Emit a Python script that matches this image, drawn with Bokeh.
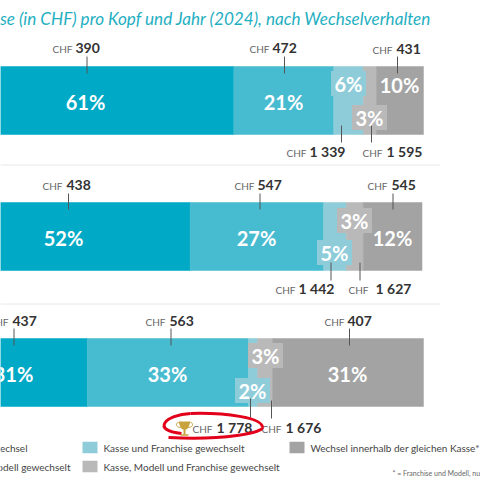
from bokeh.plotting import figure
from bokeh.embed import file_html
from bokeh.resources import INLINE
from bokeh.models import Range1d
from bokeh.core.properties import value

# ---- data ----
series_names = ["echsel", "odell gewechselt", "Kasse und Franchise gewechselt",
                "Kasse, Modell und Franchise gewechselt", "Wechsel innerhalb der gleichen Kasse*"]
share_row1 = [61.1, 20.6, 6.1, 2.7, 9.7]
share_row2 = [52.1, 27.5, 4.7, 3.5, 12.1]
share_row3 = [30.9, 33.2, 1.9, 3.1, 31.1]
pct_row1 = ["61%", "21%", "6%", "3%", "10%"]
pct_row2 = ["52%", "27%", "5%", "3%", "12%"]
pct_row3 = ["31%", "33%", "2%", "3%", "31%"]
chf_row1 = ["390", "472", "1 339", "1 595", "431"]
chf_row2 = ["438", "547", "1 442", "1 627", "545"]
chf_row3 = ["437", "563", "1 778", "1 676", "407"]
colors = ["#00A9C5", "#47BBCF", "#8ECCD9", "#B9B9B9", "#A3A3A3"]
title_text = "se (in CHF) pro Kopf und Jahr (2024), nach Wechselverhalten"
footnote = "* = Franchise und Modell, nu"

rows = [share_row1, share_row2, share_row3]
pcts = [pct_row1, pct_row2, pct_row3]
chfs = [chf_row1, chf_row2, chf_row3]

# ---- page-pixel layout helpers ----
M = 0
W = H = 480
PCT_PX = 4.85
X0_PX = -63.0
ROW_PX = 136.0
ROW0_PX = 100.0
def X(px): return (px - X0_PX) / PCT_PX
def Y(py): return (py - ROW0_PX) / ROW_PX

p = figure(width=W, height=H, output_backend="svg", toolbar_location=None,
           x_range=Range1d(X(M), X(M + W)), y_range=Range1d(Y(M + H), Y(M)),
           min_border=0, outline_line_color=None)
p.axis.visible = False
p.grid.visible = False
p.background_fill_color = "white"

FONT = value("Lato")

# separators
p.segment(x0=[X(M)] * 2, x1=[X(440)] * 2, y0=[Y(164.5), Y(303.5)], y1=[Y(164.5), Y(303.5)],
          line_color="#E8E8E8", line_width=1)

# bars
BAR_H = 68 / ROW_PX
for r, shares in enumerate(rows):
    left = 0.0
    for s, c in zip(shares, colors):
        p.hbar(y=[r], left=[left], right=[left + s], height=BAR_H, fill_color=c, line_color=c, line_width=0.5)
        left += s

pct_pos = [
    [(85, 101), (283, 101), (348, 83), (369, 117), (399, 84)],
    [(63, 237), (256, 237), (334, 252), (354, 220), (392, 237)],
    [(13, 373), (167, 373), (252, 390), (265, 355), (347, 373)],
]
for r in range(3):
    for i in (2, 3):
        x, y = pct_pos[r][i]
        p.rect(x=[X(x)], y=[Y(y)], width=35, height=25, width_units="screen", height_units="screen",
               fill_color=colors[i], line_color=None)

leaders = [
    [(86.5, 56, 73), (284, 56, 73), (341, 125, 142), (371, 125, 142), (397, 56, 73)],
    [(68, 193, 209), (259.5, 193, 209), (330.5, 262, 280), (359.5, 262, 280), (392.5, 193, 209)],
    [(13.5, 328, 345), (170.5, 328, 345), (250, 398, 417), (271, 400, 418), (349, 328, 345)],
]
for row in leaders:
    for x, a, b in row:
        p.segment(x0=[X(x)], x1=[X(x)], y0=[Y(a)], y1=[Y(b)], line_color="#555555", line_width=1)

for r in range(3):
    for i, t in enumerate(pcts[r]):
        x, y = pct_pos[r][i]
        p.text(x=[X(x)], y=[Y(y)], text=[t], text_color="white", text_font=FONT, text_font_style="bold",
               text_font_size="20px", text_align="center", text_baseline="middle")

chf_pos = [
    [(75, 72, 47), (272, 269, 47), (309, 306, 151), (386, 382, 151), (396, 392, 48)],
    [(66, 62, 184), (257, 254, 184), (298, 295, 288), (375, 368, 288), (391, 387, 184)],
    [(12, 8, 320), (169, 165, 320), (216, 212, 427), (285, 281, 427), (347, 344, 320)],
]
for r in range(3):
    for i, t in enumerate(chfs[r]):
        nx, cx, y = chf_pos[r][i]
        p.text(x=[X(cx)], y=[Y(y + 1)], text=["CHF"], text_color="#666666", text_font=FONT,
               text_font_size="10px", text_align="right", text_baseline="middle")
        p.text(x=[X(nx)], y=[Y(y)], text=[t], text_color="#333333", text_font=FONT, text_font_style="bold",
               text_font_size="14px", text_align="left", text_baseline="middle")

p.text(x=[X(431)], y=[Y(18)], text=[title_text], text_color="#1FAFC2", text_font=FONT,
       text_font_style="italic", text_font_size="17.1px", text_align="right", text_baseline="middle")

for i, sx, sy in [(2, 82, 447), (3, 82, 466), (4, 289, 447)]:
    p.rect(x=[X(sx + 7.5)], y=[Y(sy)], width=15, height=11.5, width_units="screen", height_units="screen",
           fill_color=colors[i], line_color=None)
    p.text(x=[X(sx + 21)], y=[Y(sy + 0.5)], text=[series_names[i]], text_color="#444444", text_font=FONT,
           text_font_size="10px", text_align="left", text_baseline="middle")
p.text(x=[X(27)], y=[Y(447.5)], text=[series_names[0]], text_color="#444444", text_font=FONT,
       text_font_size="10px", text_align="right", text_baseline="middle")
p.text(x=[X(70)], y=[Y(466.5)], text=[series_names[1]], text_color="#444444", text_font=FONT,
       text_font_size="10px", text_align="right", text_baseline="middle")
p.text(x=[X(392)], y=[Y(472.5)], text=[footnote], text_color="#666666", text_font=FONT,
       text_font_size="7px", text_align="left", text_baseline="middle")

RED = "#E2001A"
p.bezier(x0=[X(168)], y0=[Y(437)], x1=[X(262)], y1=[Y(427)],
         cx0=[X(225)], cy0=[Y(440)], cx1=[X(262)], cy1=[Y(432)], line_color=RED, line_width=3)
p.bezier(x0=[X(262)], y0=[Y(427)], x1=[X(190)], y1=[Y(413)],
         cx0=[X(262)], cy0=[Y(417)], cx1=[X(225)], cy1=[Y(412)], line_color=RED, line_width=3)
p.bezier(x0=[X(190)], y0=[Y(413)], x1=[X(181)], y1=[Y(433)],
         cx0=[X(165)], cy0=[Y(414)], cx1=[X(150)], cy1=[Y(430)], line_color=RED, line_width=3)

GOLD = "#C8A23C"
p.patch(x=[X(178), X(190), X(188), X(186), X(182), X(180)],
        y=[Y(421), Y(421), Y(427), Y(429), Y(429), Y(427)], fill_color=GOLD, line_color=None)
p.segment(x0=[X(184)], x1=[X(184)], y0=[Y(428)], y1=[Y(434)], line_color=GOLD, line_width=2)
p.segment(x0=[X(180)], x1=[X(188)], y0=[Y(434.5)], y1=[Y(434.5)], line_color=GOLD, line_width=1.5)
p.bezier(x0=[X(178)], y0=[Y(422)], x1=[X(180)], y1=[Y(427)], cx0=[X(175)], cy0=[Y(422)], cx1=[X(175)], cy1=[Y(427)],
         line_color=GOLD, line_width=1)
p.bezier(x0=[X(190)], y0=[Y(422)], x1=[X(188)], y1=[Y(427)], cx0=[X(193)], cy0=[Y(422)], cx1=[X(193)], cy1=[Y(427)],
         line_color=GOLD, line_width=1)

open("out.html", "w").write(file_html(p, INLINE))
